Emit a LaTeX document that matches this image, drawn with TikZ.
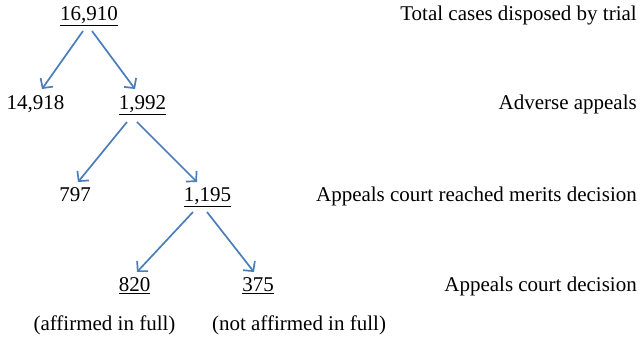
\documentclass[tikz,border=0pt]{standalone}
\usepackage{fontspec}
\setmainfont{Liberation Serif}
\usetikzlibrary{arrows.meta,calc}
\definecolor{arrowblue}{RGB}{74,126,187}
\begin{document}
\begin{tikzpicture}[x=1pt,y=-1pt,
  num/.style={anchor=base,inner sep=0pt,font=\fontsize{21}{24}\selectfont},
  lbl/.style={anchor=base east,inner sep=0pt,font=\fontsize{21}{24}\selectfont},
  arr/.style={draw=arrowblue,line width=1.7pt,-{Straight Barb[length=7pt,width=15pt,line width=1.7pt]}}]
\useasboundingbox[fill=white] (0,0) rectangle (643,347);
% numbers
\node[num] (n16910) at (89,21) {\underline{16,910}};
\node[num] (n14918) at (35.5,110) {14,918};
\node[num] (n1992) at (142.5,110) {\underline{1,992}};
\node[num] (n797) at (75,202) {797};
\node[num] (n1195) at (207.5,202) {\underline{1,195}};
\node[num] (n820) at (134.5,292) {\underline{820}};
\node[num] (n375) at (258,292) {\underline{375}};
\node[num] (paff) at (104.5,331) {(affirmed in full)};
\node[num] (pnaff) at (299,331) {(not affirmed in full)};
% labels
\node[lbl] (l1) at (637,21) {Total cases disposed by trial};
\node[lbl] (l2) at (637,110) {Adverse appeals};
\node[lbl] (l3) at (637,202) {Appeals court reached merits decision};
\node[lbl] (l4) at (637,292) {Appeals court decision};
% arrows
\draw[arr] ($(n16910.base)+(-6,10)$) -- ($(n14918.base)+(6.5,-21)$);
\draw[arr] ($(n16910.base)+(3,10)$) -- ($(n1992.base)+(-7.5,-21)$);
\draw[arr] ($(n1992.base)+(-15.5,12)$) -- ($(n797.base)+(3,-20)$);
\draw[arr] ($(n1992.base)+(-5.5,12)$) -- ($(n1195.base)+(-10.5,-20)$);
\draw[arr] ($(n1195.base)+(-14.5,10)$) -- ($(n820.base)+(2.5,-20)$);
\draw[arr] ($(n1195.base)+(-0.5,10)$) -- ($(n375.base)+(-4,-20)$);
\end{tikzpicture}
\end{document}
